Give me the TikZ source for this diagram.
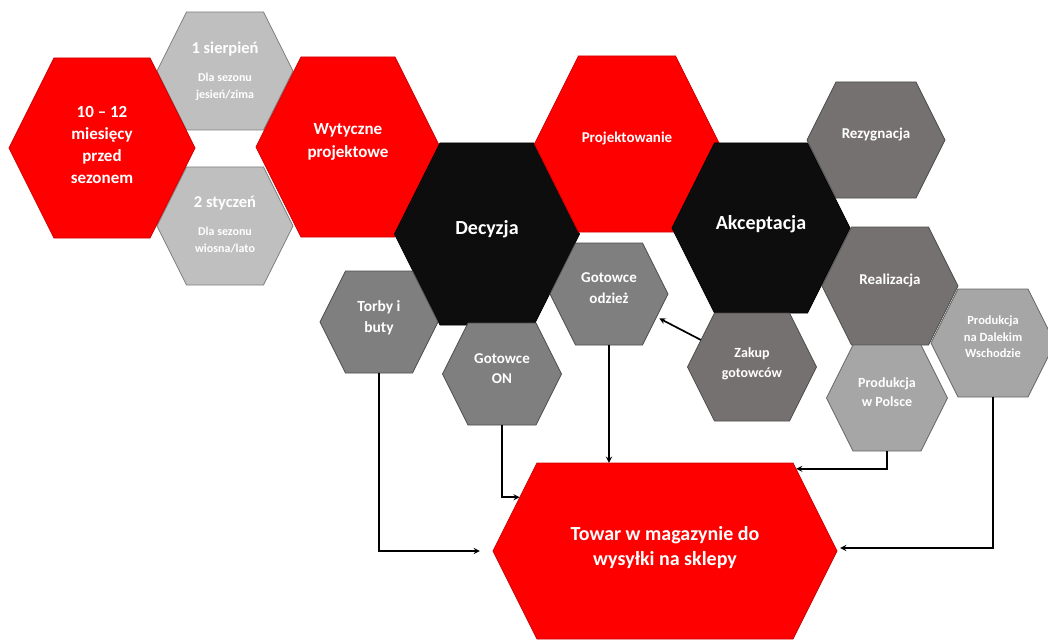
\documentclass[tikz,border=0pt]{standalone}
\usepackage{fontspec}
\setmainfont{Carlito}
\usepackage{tikz}
\usetikzlibrary{arrows, calc}
\definecolor{cellred}{HTML}{FF0000}
\definecolor{cellblack}{HTML}{0D0D0D}
\definecolor{celllight}{HTML}{BFBFBF}
\definecolor{cellmid}{HTML}{7F7F7F}
\definecolor{cellwarm}{HTML}{767171}
\definecolor{cellprod}{HTML}{A6A6A6}
\tikzstyle{redcell} = [fill=cellred, draw=cellred!80!black, line width=0.8pt]
\tikzstyle{blackcell} = [fill=cellblack, draw=black, line width=0.8pt]
\tikzstyle{lightcell} = [fill=celllight, draw=cellmid, line width=0.8pt]
\tikzstyle{midcell} = [fill=cellmid, draw=black!70, line width=0.8pt]
\tikzstyle{warmcell} = [fill=cellwarm, draw=black!70, line width=0.8pt]
\tikzstyle{prodcell} = [fill=cellprod, draw=black!60, line width=0.8pt]
\tikzstyle{cellbox} = [rectangle, inner sep=0pt, draw=none]
\tikzstyle{celltext} = [text=white, align=center, inner sep=0pt]
\tikzstyle{arrow} = [line width=1.7pt,->,>=stealth]
\newcommand{\cellfont}[2]{\bfseries\fontsize{#1}{#2}\selectfont}
% hexagon cell: name, centre, width, height, cell style, text options, text
\newcommand{\hexcell}[7]{
\filldraw [#5] (#2) ++(-#3/2,0) -- ++(#4/4,-#4/2) -- ++(#3-#4/2,0) -- ++(#4/4,#4/2) -- ++(-#4/4,#4/2) -- ++(-#3+#4/2,0) -- cycle;
\node (#1) [cellbox, minimum width=#3, minimum height=#4] at (#2) {};
\node (#1-txt) [celltext, #6] at (#1.center) {#7};
}

\begin{document}
\begin{tikzpicture}[x=1pt, y=-1pt]
\useasboundingbox (0,0) rectangle (1048,639);

\hexcell{sierpien}{225,71}{136}{118}{lightcell}{font=\cellfont{16.5}{20}, yshift=22pt}{1 sierpień}
\node (sierpien-sub) [celltext, font=\cellfont{12}{16.5}, yshift=-16pt] at (sierpien.center) {Dla sezonu\\jesień/zima};
\hexcell{styczen}{225,226}{136}{118}{lightcell}{font=\cellfont{16.5}{20}, yshift=23pt}{2 styczeń}
\node (styczen-sub) [celltext, font=\cellfont{12}{16.5}, yshift=-14pt] at (styczen.center) {Dla sezonu\\wiosna/lato};
\hexcell{lead}{102,148}{186}{180}{redcell}{font=\cellfont{17}{22}, yshift=3pt}{10 – 12\\miesięcy\\przed\\sezonem}
\hexcell{wytyczne}{348,147}{184}{180}{redcell}{font=\cellfont{17}{23}, yshift=5pt}{Wytyczne\\projektowe}
\hexcell{decyzja}{487,234}{185}{182}{blackcell}{font=\cellfont{20}{24}, yshift=5pt}{Decyzja}
\hexcell{projekt}{627,144}{185}{176}{redcell}{font=\cellfont{15}{18}, yshift=5pt}{Projektowanie}
\hexcell{akcept}{761,228}{178}{170}{blackcell}{font=\cellfont{20}{24}, yshift=4pt}{Akceptacja}
\hexcell{rezyg}{876,140}{138}{116}{warmcell}{font=\cellfont{15}{18}, yshift=5pt}{Rezygnacja}
\hexcell{realiz}{890,286}{136}{118}{warmcell}{font=\cellfont{15}{18}, yshift=5pt}{Realizacja}
\hexcell{polsce}{887,398}{121}{106}{prodcell}{font=\cellfont{14}{18.5}, yshift=6pt}{Produkcja\\w Polsce}
\hexcell{dalekim}{993,343}{124}{108}{prodcell}{font=\cellfont{12.5}{16.5}, yshift=6pt}{Produkcja\\na Dalekim\\Wschodzie}
\hexcell{zakup}{752,367}{129}{108}{warmcell}{font=\cellfont{14}{19.5}, yshift=3pt}{Zakup\\gotowców}
\hexcell{odziez}{609,294}{118}{102}{midcell}{font=\cellfont{15}{20.5}, yshift=6pt}{Gotowce\\odzież}
\hexcell{torby}{379,322}{118}{102}{midcell}{font=\cellfont{15.5}{21}, yshift=4pt}{Torby i\\buty}
\hexcell{goton}{502,374}{119}{102}{midcell}{font=\cellfont{15}{20}, yshift=5pt}{Gotowce\\ON}
\hexcell{towar}{665,551}{344}{176}{redcell}{font=\cellfont{20}{25}, yshift=3pt}{Towar w magazynie do\\wysyłki na sklepy}

\draw [arrow] (torby.south) |- ([xshift=-13pt]towar.west);
\draw [arrow] (goton.south) |- ($(towar.west)!0.61!([xshift=44pt]towar.north west)$);
\draw [arrow] (odziez.south) -- (odziez.south |- towar.north);
\draw [arrow] (polsce.south) |- ([xshift=-41pt,yshift=-6pt]towar.north east);
\draw [arrow] (dalekim.south) |- ([xshift=3pt,yshift=3pt]towar.east);
\draw [arrow, shorten >=3pt] ($(zakup.west)!0.5!([xshift=27pt]zakup.north west)$) -- ($(odziez.east)!0.45!([xshift=-25.5pt]odziez.south east)$);
\end{tikzpicture}
\end{document}
